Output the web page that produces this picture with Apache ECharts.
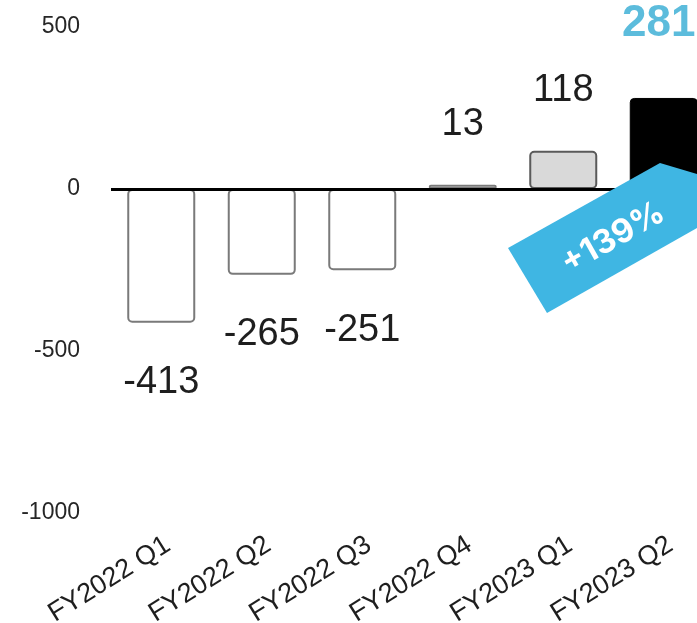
<!DOCTYPE html>
<html>
<head>
<meta charset="utf-8">
<title>Quarterly result</title>
<script src="https://cdn.jsdelivr.net/npm/echarts@6/dist/echarts.min.js"></script>
<style>
  html, body { margin: 0; padding: 0; background: #ffffff; }
  #chart { width: 697px; height: 623px; }
</style>
</head>
<body>
<div id="chart"></div>
<script>
// Quarterly values
const categories = ['FY2022 Q1', 'FY2022 Q2', 'FY2022 Q3', 'FY2022 Q4', 'FY2023 Q1', 'FY2023 Q2'];
const values = [-413, -265, -251, 13, 118, 281];
const yTicks = [-1000, -500, 0, 500];
const growthText = '+139%';

const FONT = '"Liberation Sans", Arial, sans-serif';
const lastIdx = values.length - 1;

function barStyle(i) {
  if (i === lastIdx) return { color: '#000000', borderColor: '#000000', borderWidth: 1, borderRadius: 4 };
  if (i === lastIdx - 1) return { color: '#d9d9d9', borderColor: '#5a5a5a', borderWidth: 2, borderRadius: 4 };
  return { color: '#ffffff', borderColor: '#7a7a7a', borderWidth: 2, borderRadius: 4 };
}

function barLabel(i, v) {
  if (i === lastIdx) {
    return { show: true, position: 'top', distance: 52, offset: [-5, 0], color: '#5cbcdc', fontWeight: 'bold', fontSize: 44, fontFamily: FONT };
  }
  return {
    show: true,
    position: v < 0 ? 'bottom' : 'top',
    distance: 41,
    color: '#1e1e1e',
    fontSize: 38,
    fontFamily: FONT
  };
}

const seriesData = values.map((v, i) => ({ value: v, itemStyle: barStyle(i), label: barLabel(i, v) }));

const chart = echarts.init(document.getElementById('chart'), null, { renderer: 'canvas' });

chart.setOption({
  animation: false,
  backgroundColor: '#ffffff',
  grid: { left: 111, width: 603, top: 27, height: 486, outerBoundsMode: 'none', containLabel: false },
  xAxis: {
    type: 'category',
    data: categories,
    axisLine: { show: false, onZero: false },
    axisTick: { show: false },
    axisLabel: {
      rotate: 32,
      margin: 34,
      fontSize: 27,
      color: '#1e1e1e',
      fontFamily: FONT,
      interval: 0,
      padding: [0, -8, 0, 0]
    }
  },
  yAxis: {
    type: 'value',
    min: yTicks[0],
    max: yTicks[yTicks.length - 1],
    interval: 500,
    axisLine: { show: false },
    axisTick: { show: false },
    splitLine: { show: false },
    axisLabel: {
      margin: 31,
      fontSize: 23,
      color: '#262626',
      fontFamily: FONT,
      padding: [4, 0, 0, 0],
      formatter: (v) => String(v)
    }
  },
  series: [{
    type: 'bar',
    data: seriesData,
    barWidth: 68,
    markLine: {
      silent: true,
      symbol: 'none',
      label: { show: false },
      lineStyle: { color: '#000000', width: 3, type: 'solid' },
      data: [{ yAxis: 0 }],
      z: 10
    }
  }],
  graphic: [
    {
      type: 'polygon',
      z: 100,
      shape: { points: [[508, 248], [660, 163], [697, 174], [697, 228], [547, 313]] },
      style: { fill: '#3fb6e3' }
    },
    {
      type: 'text',
      z: 101,
      x: 613,
      y: 238,
      rotation: 29.5 * Math.PI / 180,
      style: {
        text: growthText,
        fill: '#ffffff',
        font: 'bold 33px Inter, "Open Sans", sans-serif',
        align: 'center',
        verticalAlign: 'middle'
      }
    }
  ]
});
</script>
</body>
</html>
